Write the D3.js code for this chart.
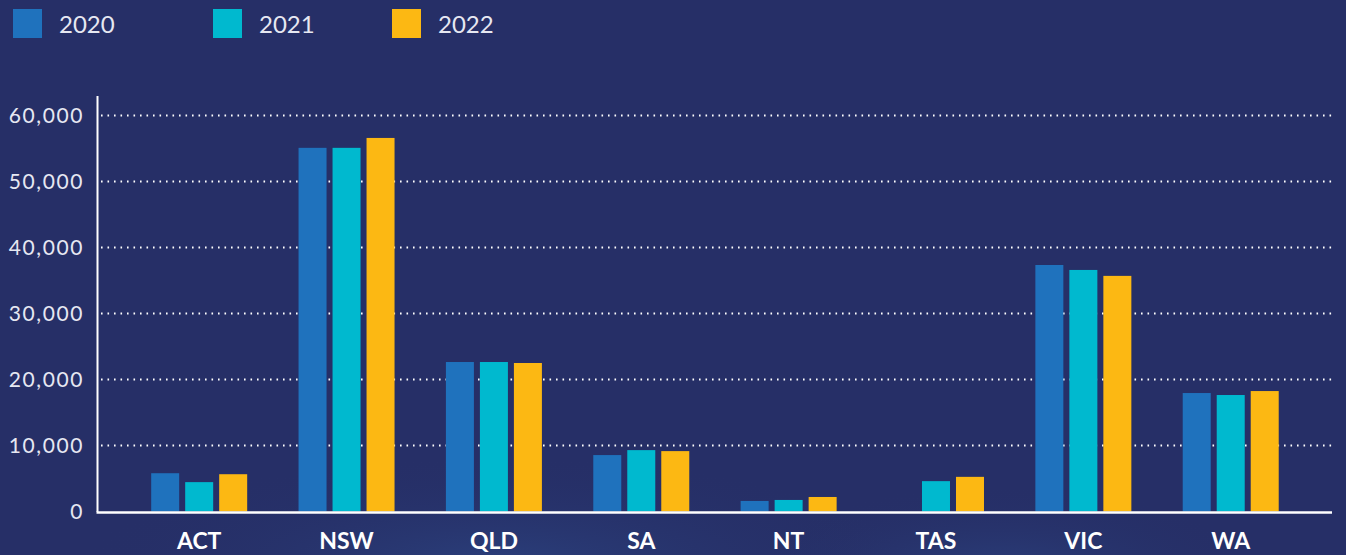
<!DOCTYPE html>
<html><head><meta charset="utf-8">
<script src="https://cdn.jsdelivr.net/npm/d3@7"></script>
<style>
html,body{margin:0;padding:0;background:#262f67;overflow:hidden;}
svg{display:block;}
</style></head>
<body>
<svg id="chart" width="1346" height="555"></svg>
<script>
const categories = ["ACT","NSW","QLD","SA","NT","TAS","VIC","WA"];
const years = ["2020","2021","2022"];
const values2020 = [5800, 55100, 22650, 8550, 1600, 0, 37350, 17950];
const values2021 = [4450, 55100, 22650, 9300, 1750, 4600, 36600, 17650];
const values2022 = [5650, 56600, 22500, 9150, 2200, 5250, 35700, 18250];
const yTicks = [0,10000,20000,30000,40000,50000,60000];
const colors = ["#1f72bd","#00b9cf","#fcb813"];

const series = [values2020, values2021, values2022];
const svg = d3.select("#chart");
const W = 1346, H = 555;

// background with subtle glow
const defs = svg.append("defs");
const g1 = defs.append("radialGradient").attr("id","glow1").attr("cx","0.5").attr("cy","0.5").attr("r","0.5");
g1.append("stop").attr("offset","0%").attr("stop-color","#2f4f8f").attr("stop-opacity",0.5);
g1.append("stop").attr("offset","100%").attr("stop-color","#262f67").attr("stop-opacity",0);
svg.append("rect").attr("width",W).attr("height",H).attr("fill","#262f67");
svg.append("ellipse").attr("cx",500).attr("cy",565).attr("rx",420).attr("ry",110).attr("fill","url(#glow1)");
svg.append("ellipse").attr("cx",1000).attr("cy",575).attr("rx",260).attr("ry",90).attr("fill","url(#glow1)");

const y = d3.scaleLinear().domain([0,60000]).range([511.5,115.5]);
const x0 = d3.scaleBand().domain(categories).range([125.5,1304.4]).padding(0);
const x1 = d3.scaleBand().domain(years).range([0,96]).paddingInner(6/34).paddingOuter(0);

// gridlines
svg.append("g").selectAll("line").data(yTicks.filter(d=>d>0)).join("line")
  .attr("x1",101).attr("x2",1334)
  .attr("y1",d=>y(d)).attr("y2",d=>y(d))
  .attr("stroke","#ffffff").attr("stroke-width",2)
  .attr("stroke-dasharray","1.6,4.9").attr("stroke-linecap","butt");

// y axis labels
const yAxis = d3.axisLeft(y).tickValues(yTicks).tickSize(0).tickPadding(0)
  .tickFormat(d3.format(","));
const ya = svg.append("g").attr("transform","translate(84,0)").call(yAxis);
ya.select(".domain").remove();
ya.selectAll("text").attr("fill","#e6e8f2").attr("font-family","Lato, 'Open Sans', sans-serif")
  .attr("font-size",21).attr("letter-spacing","1.6px").attr("dy","0.35em");

// bars
const groups = svg.append("g").selectAll("g").data(categories).join("g")
  .attr("transform",d=>`translate(${x0(d)+x0.bandwidth()/2-48},0)`);
groups.selectAll("rect").data((c,i)=>years.map((yr,j)=>({yr, v:series[j][i], j})))
  .join("rect")
  .attr("x",d=>x1(d.yr)).attr("width",x1.bandwidth())
  .attr("y",d=>y(d.v)).attr("height",d=>y(0)-y(d.v))
  .attr("fill",d=>colors[d.j]);

// axis lines
svg.append("line").attr("x1",97.5).attr("x2",97.5).attr("y1",96).attr("y2",512)
  .attr("stroke","#ffffff").attr("stroke-width",2);
svg.append("line").attr("x1",96.5).attr("x2",1332).attr("y1",512.5).attr("y2",512.5)
  .attr("stroke","#ffffff").attr("stroke-width",2.5);

// x labels
const xAxis = d3.axisBottom(x0).tickSize(0).tickPadding(0);
const xa = svg.append("g").attr("transform","translate(0,549)").call(xAxis);
xa.select(".domain").remove();
xa.selectAll("text").attr("fill","#ffffff").attr("font-family","Lato, 'Open Sans', sans-serif")
  .attr("font-weight","bold").attr("font-size",23).attr("dy",0);

// legend
const legX = [13,213,392];
const leg = svg.append("g").selectAll("g").data(years).join("g")
  .attr("transform",(d,i)=>`translate(${legX[i]},9)`);
leg.append("rect").attr("width",29).attr("height",29).attr("fill",(d,i)=>colors[i]);
leg.append("text").attr("x",46).attr("y",23.5).text(d=>d)
  .attr("fill","#e6e8f2").attr("font-family","Lato, 'Open Sans', sans-serif").attr("font-size",24);
</script>
</body></html>
